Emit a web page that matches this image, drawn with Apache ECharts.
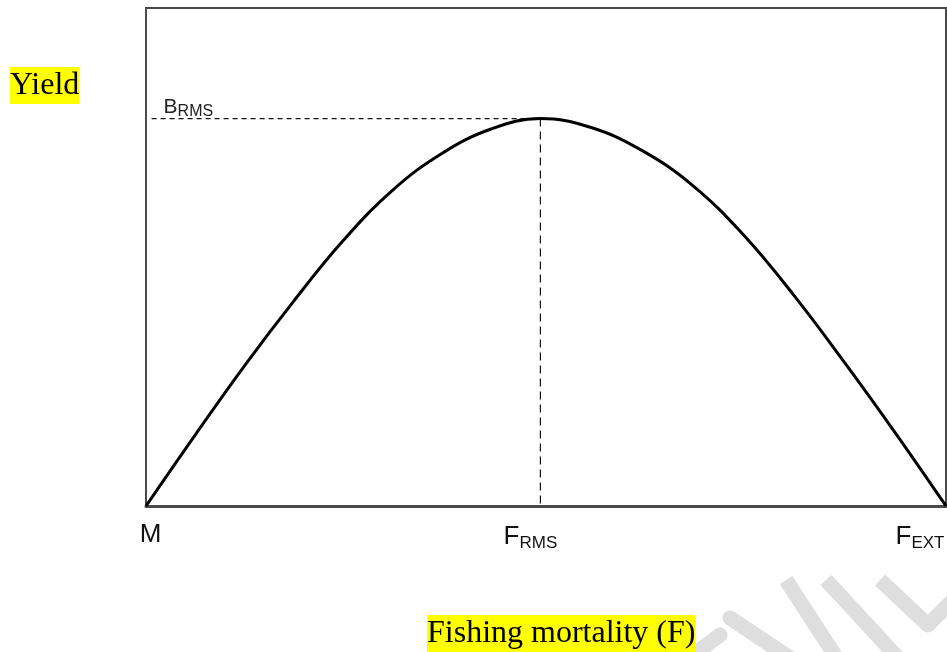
<!DOCTYPE html>
<html>
<head>
<meta charset="utf-8">
<script src="https://cdn.jsdelivr.net/npm/echarts@6/dist/echarts.min.js"></script>
<style>
  html, body { margin: 0; padding: 0; background: #fff; }
  #main { width: 947px; height: 652px; }
</style>
</head>
<body>
<div id="main"></div>
<script>
// yield curve (F scaled 0..1, yield scaled 0..1)
const curveX = [0, 0.0616, 0.1233, 0.1849, 0.2465, 0.3081, 0.3698, 0.4314, 0.493, 0.5564, 0.6198, 0.6831, 0.7465, 0.8099, 0.8733, 0.9366, 1];
const curveY = [0, 0.143, 0.282, 0.412, 0.533, 0.634, 0.708, 0.757, 0.778, 0.760, 0.714, 0.644, 0.545, 0.423, 0.288, 0.147, 0];

// reference points on the F axis
const tickValues = [0, 0.493, 1];
const tickLabels = ["{m|M}", "{f|F}{s|RMS}{p|}", "{f|F}{s|EXT}{q|}"];

// dashed guides to the maximum
const fRms = 0.493;
const bRms = 0.778;
const guideStartX = 0.007;

const chart = echarts.init(document.getElementById("main"));

const curveData = curveX.map((x, i) => [x, curveY[i]]);

chart.setOption({
  animation: false,
  backgroundColor: "#fff",
  title: [
    {
      text: "Yield",
      left: 10,
      top: 67,
      padding: [0, 0],
      backgroundColor: "#ffff00",
      textStyle: {
        fontFamily: "Liberation Serif",
        fontSize: 32,
        fontWeight: "normal",
        color: "#000",
        lineHeight: 37,
      },
    },
    {
      text: "Fishing mortality (F)",
      left: 427,
      top: 615,
      padding: [0, 0],
      backgroundColor: "#ffff00",
      textStyle: {
        fontFamily: "Liberation Serif",
        fontSize: 32,
        fontWeight: "normal",
        color: "#000",
        lineHeight: 37,
      },
    },
  ],
  // grey watermark strokes in the lower right corner
  graphic: [
    { type: "polyline", z: -10, shape: { points: [[693, 655], [720, 635]] }, style: { stroke: "#dedede", lineWidth: 15, lineCap: "round", fill: null } },
    { type: "polyline", z: -10, shape: { points: [[730, 618], [790, 658]] }, style: { stroke: "#dedede", lineWidth: 15, lineCap: "round", fill: null } },
    { type: "polyline", z: -10, shape: { points: [[786, 580], [838, 660]] }, style: { stroke: "#dedede", lineWidth: 15, fill: null } },
    { type: "polyline", z: -10, shape: { points: [[826, 580], [900, 660]] }, style: { stroke: "#dedede", lineWidth: 15, fill: null } },
    { type: "polyline", z: -10, shape: { points: [[880, 580], [928, 625], [955, 598]] }, style: { stroke: "#dedede", lineWidth: 15, lineJoin: "round", fill: null } },
  ],
  grid: {
    left: 146,
    top: 8,
    right: 1,
    bottom: 146,
    outerBoundsMode: "none",
    containLabel: false,
    show: true,
    borderColor: "#4a4a4a",
    borderWidth: 2,
    backgroundColor: "transparent",
  },
  xAxis: {
    type: "value",
    min: 0,
    max: 1,
    splitLine: { show: false },
    axisLine: { show: true, onZero: false, lineStyle: { color: "#4a4a4a", width: 3 } },
    axisTick: { show: false },
    axisLabel: {
      customValues: tickValues,
      showMinLabel: true,
      showMaxLabel: true,
      hideOverlap: false,
      margin: 16,
      color: "#000",
      formatter: function (v) {
        const i = tickValues.indexOf(v);
        return i >= 0 ? tickLabels[i] : "";
      },
      rich: {
        m: { fontFamily: "Liberation Sans", fontSize: 26, color: "#111", padding: [0, 0, 0, 9] },
        f: { fontFamily: "Liberation Sans", fontSize: 26, color: "#111", lineHeight: 30 },
        s: { fontFamily: "Liberation Sans", fontSize: 17, color: "#111", lineHeight: 20, verticalAlign: "bottom" },
        p: { width: 20 },
        q: { width: 52 },
      },
    },
  },
  yAxis: {
    type: "value",
    min: 0,
    max: 1,
    axisLine: { show: false },
    axisTick: { show: false },
    axisLabel: { show: false },
    splitLine: { show: false },
  },
  series: [
    {
      name: "yield",
      type: "line",
      data: curveData,
      smooth: 0.4,
      symbol: "none",
      lineStyle: { color: "#000", width: 3 },
      z: 5,
    },
    {
      name: "bRms",
      type: "line",
      data: [
        {
          value: [guideStartX, bRms],
          label: {
            show: true,
            position: [12, 1],
            align: "left",
            verticalAlign: "bottom",
            formatter: "{b|B}{s|RMS}",
            rich: {
              b: { fontFamily: "Liberation Sans", fontSize: 21, color: "#222", lineHeight: 24 },
              s: { fontFamily: "Liberation Sans", fontSize: 16, color: "#222", lineHeight: 12, verticalAlign: "bottom" },
            },
          },
        },
        [fRms, bRms],
      ],
      symbol: "circle",
      symbolSize: 0.01,
      showSymbol: true,
      itemStyle: { color: "#111" },
      lineStyle: { color: "#111", width: 1.2, type: [5, 4] },
      z: 3,
    },
    {
      name: "fRms",
      type: "line",
      data: [[fRms, bRms], [fRms, 0]],
      symbol: "none",
      lineStyle: { color: "#111", width: 1.2, type: [8, 5] },
      z: 3,
    },
  ],
});
</script>
</body>
</html>
